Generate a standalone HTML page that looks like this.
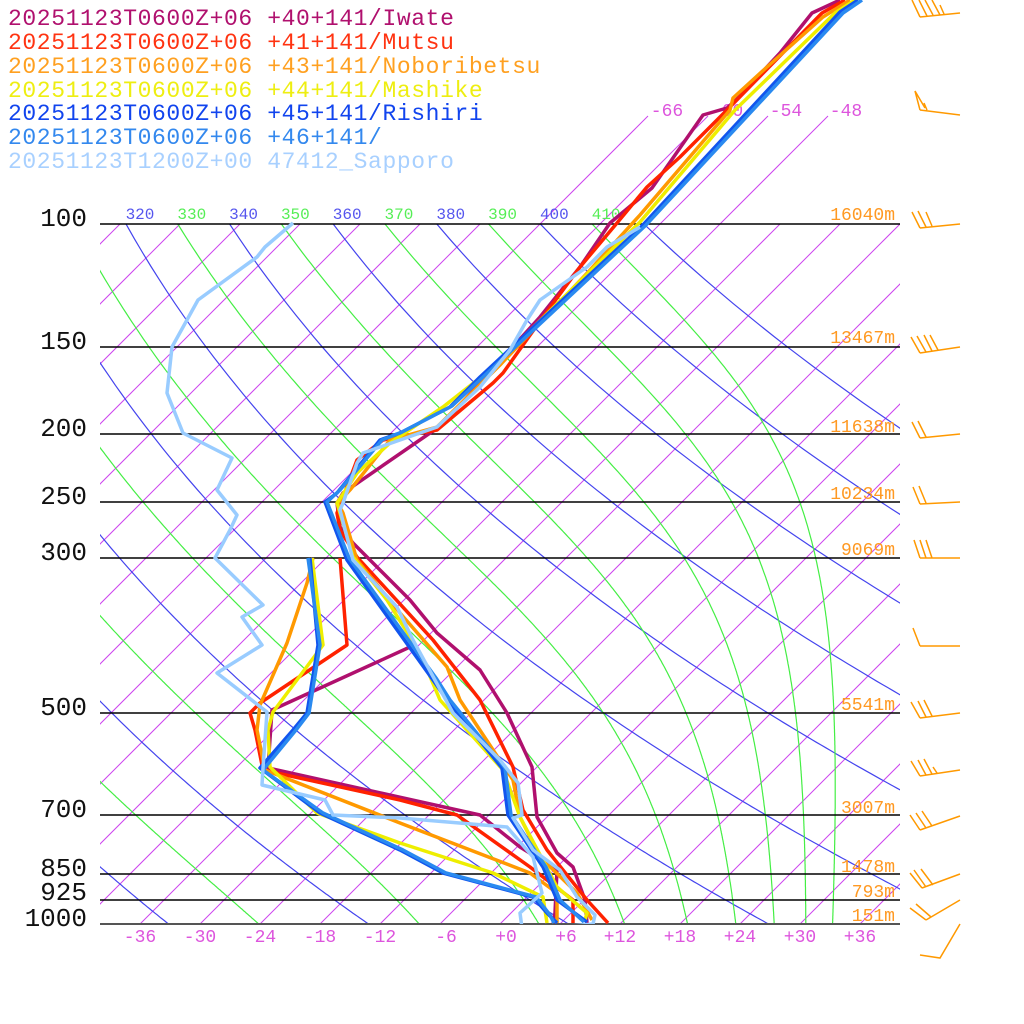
<!DOCTYPE html>
<html><head><meta charset="utf-8"><style>
html,body{margin:0;padding:0;background:#fff;width:1024px;height:1024px;overflow:hidden}
svg{display:block}
text{font-family:"Liberation Mono",monospace}
</style></head><body>
<svg id="s" width="1024" height="1024" viewBox="0 0 1024 1024" xmlns="http://www.w3.org/2000/svg">
<defs><clipPath id="pc"><rect x="100" y="224" width="800" height="700"/></clipPath>
<clipPath id="tc"><rect x="100" y="0" width="800" height="924"/></clipPath></defs>
<g id="grid" clip-path="url(#pc)" fill="none"></g>
<g id="iso2" fill="none" stroke="#cc44ee" stroke-width="1"></g>
<g id="hl" stroke="#000" stroke-width="1.5">
<line x1="100" y1="224" x2="900" y2="224"/><line x1="100" y1="347" x2="900" y2="347"/>
<line x1="100" y1="434" x2="900" y2="434"/><line x1="100" y1="502" x2="900" y2="502"/>
<line x1="100" y1="558" x2="900" y2="558"/><line x1="100" y1="713" x2="900" y2="713"/>
<line x1="100" y1="815" x2="900" y2="815"/><line x1="100" y1="874" x2="900" y2="874"/>
<line x1="100" y1="900" x2="900" y2="900"/><line x1="100" y1="924" x2="900" y2="924" stroke="#555" stroke-width="2"/>
</g>
<g font-size="26" fill="#111" text-anchor="end">
<text x="87" y="226">100</text><text x="87" y="349">150</text><text x="87" y="436">200</text>
<text x="87" y="504">250</text><text x="87" y="560">300</text><text x="87" y="715">500</text>
<text x="87" y="817">700</text><text x="87" y="876">850</text><text x="87" y="900">925</text><text x="87" y="926">1000</text>
</g>
<g font-size="16" text-anchor="middle" id="thl"></g>
<g font-size="18" fill="#dd55dd" text-anchor="middle">
<text x="140" y="942">-36</text><text x="200" y="942">-30</text><text x="260" y="942">-24</text>
<text x="320" y="942">-18</text><text x="380" y="942">-12</text><text x="446" y="942">-6</text>
<text x="506" y="942">+0</text><text x="566" y="942">+6</text><text x="620" y="942">+12</text>
<text x="680" y="942">+18</text><text x="740" y="942">+24</text><text x="800" y="942">+30</text><text x="860" y="942">+36</text>
<text x="667" y="116">-66</text><text x="727" y="116">-60</text><text x="786" y="116">-54</text><text x="846" y="116">-48</text>
</g>
<g font-size="18" fill="#ff9922" text-anchor="end">
<text x="895" y="220">16040m</text><text x="895" y="343">13467m</text><text x="895" y="432">11638m</text>
<text x="895" y="499">10234m</text><text x="895" y="555">9069m</text><text x="895" y="710">5541m</text>
<text x="895" y="813">3007m</text><text x="895" y="872">1478m</text><text x="895" y="897">793m</text><text x="895" y="921">151m</text>
</g>
<g id="prof" fill="none" stroke-width="3.5" stroke-linejoin="round" clip-path="url(#tc)"></g>
<g fill="none" stroke="#ff9900" stroke-width="1.5">
<path d="M920 17 L960 13 M920 17 L912 0 M927 16 L919 0 M933 15 L925 0 M940 15 L932 0 M944 14 L940 5"/>
<path d="M920 110 L960 115 M920 110 L915 91 L925 108 M924 103 L927 110"/>
<path d="M920 228 L960 224 M920 228 L912 212 M926 227 L918 211 M932 226 L926 212"/>
<path d="M920 353 L960 347 M920 353 L911 337 M926 352 L917 336 M932 351 L924 335 M938 350 L930 335"/>
<path d="M920 438 L960 434 M920 438 L912 422 M926 437 L918 421"/>
<path d="M920 504 L960 502 M920 504 L913 487 M926 503 L919 486"/>
<path d="M920 558 L960 558 M920 558 L914 540 M926 558 L920 540 M932 558 L926 540"/>
<path d="M920 646 L960 646 M920 646 L913 628"/>
<path d="M920 718 L960 713 M920 718 L911 702 M926 717 L918 701 M932 716 L924 700"/>
<path d="M920 776 L960 770 M920 776 L911 761 M926 775 L918 760 M932 774 L924 759 M937 773 L933 767"/>
<path d="M920 830 L960 816 M920 830 L910 815 M926 828 L916 813 M932 826 L922 811"/>
<path d="M922 888 L960 874 M922 888 L910 873 M926 887 L914 870 M933 885 L921 869"/>
<path d="M926 920 L960 900 M926 920 L910 908 M931 917 L916 904"/>
<path d="M920 955 L940 958 L960 924"/>
</g>
<g font-size="23" text-anchor="start" letter-spacing="0.6">
<text x="8" y="25" fill="#b0106e">20251123T0600Z+06 +40+141/Iwate</text>
<text x="8" y="49" fill="#ff3311">20251123T0600Z+06 +41+141/Mutsu</text>
<text x="8" y="73" fill="#ffa020">20251123T0600Z+06 +43+141/Noboribetsu</text>
<text x="8" y="97" fill="#eeee11">20251123T0600Z+06 +44+141/Mashike</text>
<text x="8" y="120" fill="#1144ee">20251123T0600Z+06 +45+141/Rishiri</text>
<text x="8" y="144" fill="#3388ee">20251123T0600Z+06 +46+141/</text>
<text x="8" y="168" fill="#a8d0ff">20251123T1200Z+00 47412_Sapporo</text>
</g>
</svg>
<script>
(function(){
var NS="http://www.w3.org/2000/svg";
function el(p,tag,a){var e=document.createElementNS(NS,tag);for(var k in a)e.setAttribute(k,a[k]);p.appendChild(e);return e;}
var g=document.getElementById('grid');
function Y(p){return 924-304*Math.log(1000/p);}
function X(T,p){return 500+10*T+304*Math.log(1000/p);}
for(var T=-210;T<=40;T+=6){var x0=500+10*T;el(g,'line',{x1:x0,y1:924,x2:x0+900,y2:24,stroke:'#cc44ee','stroke-width':1});}
var g2=document.getElementById('iso2');
[-66,-60,-54,-48].forEach(function(T){var x0=500+10*T+700;el(g2,'line',{x1:x0,y1:224,x2:x0+108,y2:116});});
for(var th=200;th<=420;th+=20){var d='';for(var p=1000;p>=95;p-=5){var t=th*Math.pow(p/1000,0.2857)-273.15;d+=(d?'L':'M')+X(t,p).toFixed(1)+' '+Y(p).toFixed(1);}
el(g,'path',{d:d,stroke:'#4444ee','stroke-width':1.2});}
function es(tc){return 6.112*Math.exp(17.67*tc/(tc+243.5));}
for(var th=190;th<=410;th+=20){var T=th*Math.pow(0.1,0.2857);var p=100;var pts=[[X(T-273.15,p),Y(p)]];
 while(p<1000){var dp=2;var tc=T-273.15;var e=es(tc);var rs=0.622*e/(p-e);
  var num=287*T+2.5e6*rs;var den=1005+2.5e6*2.5e6*rs*0.622/(287*T*T);
  var dT=num/den*(dp/p);T+=dT;p+=dp;pts.push([X(T-273.15,p),Y(p)]);}
 var d=pts.map(function(q,i){return (i?'L':'M')+q[0].toFixed(1)+' '+q[1].toFixed(1);}).join('');
 el(g,'path',{d:d,stroke:'#44ee44','stroke-width':1.2});}
var tl=document.getElementById('thl');
for(var th=310;th<=410;th+=10){var x=X(th*Math.pow(0.1,0.2857)-273.15,100)+14;if(x<95)continue;
 var t=el(tl,'text',{x:x,y:219,fill:(th%20==0)?'#5555ee':'#55ee55'});t.textContent=th;}
var P=document.getElementById('prof');
function line(c,pts,w){el(P,'polyline',{points:pts,stroke:c,'stroke-width':w||3.5});}
line('#b0106e','840,0 812,13 780,53 737,99 727,108 703,115 652,188 610,223 580,267 540,317 510,350 440,427 430,433 343,493 337,503 340,527 353,543 410,600 437,633 480,670 507,713 532,767 537,817 557,853 573,867 585,900 587,923');
line('#b0106e','410,647 272,710 268,768 480,815 520,847 557,870 555,913 553,923');
line('#ff2200','845,0 822,13 727,110 680,157 647,187 617,223 580,267 543,317 503,373 493,383 437,430 383,440 357,460 337,513 340,530 357,557 433,640 480,700 513,767 523,810 547,850 587,900 608,923');
line('#ff2200','340,558 347,645 260,703 250,713 255,730 263,770 400,800 457,815 530,867 573,900 573,923');
line('#ff9900','850,0 823,17 767,67 733,98 730,110 640,215 590,270 500,365 437,427 390,440 350,490 338,503 343,513 357,560 400,613 447,667 460,700 513,780 520,817 540,857 577,893 592,920');
line('#ff9900','313,558 307,583 287,643 260,705 257,730 265,770 400,823 530,873 557,893 557,923');
line('#eeee00','855,0 835,13 735,110 640,222 490,370 443,407 390,443 357,473 337,503 353,557 387,600 420,653 440,700 503,770 520,817 557,887 587,913 585,920');
line('#eeee00','312,558 323,645 273,712 268,730 270,767 317,813 400,843 493,873 543,897 547,923');
line('#1155ee','858,0 840,12 642,226 480,377 450,407 400,433 380,440 337,493 325,502 347,560 433,680 447,700 502,768 508,815 543,867 557,900 587,922');
line('#1155ee','310,558 318,645 307,713 293,730 260,768 320,813 400,850 443,873 533,897 547,913 557,923');
line('#2a8af0','862,0 843,13 645,226 483,377 452,406 402,432 382,440 340,490 327,502 349,558 436,678 450,700 505,768 511,815 546,867 560,900 584,922');
line('#2a8af0','308,558 320,645 309,713 296,730 263,770 323,813 403,850 446,873 536,897 550,915 554,923');
line('#99ccff','293,223 265,247 257,257 198,300 172,347 167,393 183,433 232,458 217,490 237,515 230,530 215,558 263,605 242,617 262,645 217,673 267,712 263,768 262,785 325,800 333,815 400,818 507,827 533,857 542,893 520,913 522,928');
line('#99ccff','640,227 607,247 587,267 540,300 527,320 510,350 480,387 437,427 363,453 357,463 343,503 340,510 353,560 397,607 413,640 453,713 500,760 518,783 522,815 513,818 533,850 560,870 577,897 595,915 593,924 560,927');
})();
</script>
</body></html>
